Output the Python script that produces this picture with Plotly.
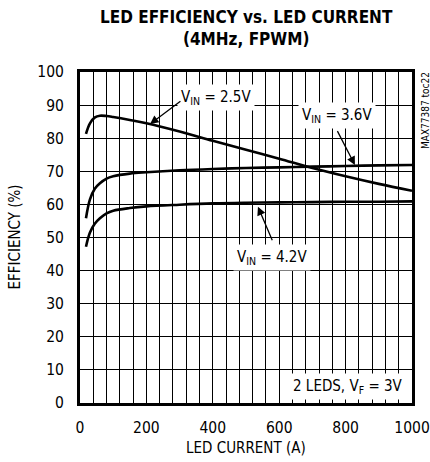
import plotly.graph_objects as go

current = [18, 30, 45, 60, 80, 100, 150, 200, 300, 400, 500, 600, 700, 800, 900, 1000]
eff_25 = [81.3, 84.5, 86.3, 86.8, 86.7, 86.4, 85.5, 84.5, 82.0, 79.2, 76.5, 73.8, 71.0, 68.5, 66.2, 64.1]
eff_36 = [55.8, 61.5, 64.8, 66.4, 67.8, 68.5, 69.3, 69.7, 70.3, 70.7, 71.0, 71.2, 71.4, 71.6, 71.8, 71.9]
eff_42 = [47.2, 51.5, 54.2, 55.8, 57.3, 58.1, 58.9, 59.4, 59.9, 60.3, 60.5, 60.6, 60.7, 60.8, 60.8, 60.9]
x_ticks = [0, 200, 400, 600, 800, 1000]
y_ticks = [0, 10, 20, 30, 40, 50, 60, 70, 80, 90, 100]

FONT = "DejaVu Sans Condensed, Liberation Sans Narrow, sans-serif"

fig = go.Figure()
for ys in (eff_25, eff_36, eff_42):
    fig.add_trace(go.Scatter(x=current, y=ys, mode="lines",
                             line=dict(color="black", width=2.6, shape="spline"),
                             showlegend=False, hoverinfo="skip"))

labels = [
    ("V<sub>IN</sub> = 2.5V", 410, 92.4),
    ("V<sub>IN</sub> = 3.6V", 774, 87.0),
    ("V<sub>IN</sub> = 4.2V", 578, 44.1),
    ("2 LEDS, V<sub>F</sub> = 3V", 806, 5.1),
]
for t, x, y in labels:
    fig.add_annotation(x=x, y=y, text=t, showarrow=False, bgcolor="white",
                       font=dict(family=FONT, size=15, color="black"), borderpad=3)

arrows = [
    (307, 91.5, 211, 84.3),
    (773, 82.6, 828, 71.9),
    (581, 48.7, 536, 59.3),
]
for tx, ty, hx, hy in arrows:
    fig.add_annotation(x=hx, y=hy, ax=tx, ay=ty, axref="x", ayref="y", text="",
                       showarrow=True, arrowhead=2, arrowsize=1.3, arrowwidth=1.3,
                       arrowcolor="black")

fig.add_annotation(x=1.0, y=1.0, xref="paper", yref="paper", xanchor="left", yanchor="top",
                   xshift=6, yshift=2, text="MAX77387 toc22", textangle=-90, showarrow=False,
                   font=dict(family=FONT, size=10, color="black"))

fig.add_annotation(x=0.5, y=1.0, xref="paper", yref="paper", xanchor="center", yanchor="bottom",
                   yshift=21, text="<b>LED EFFICIENCY vs. LED CURRENT<br>(4MHz, FPWM)</b>",
                   showarrow=False, font=dict(family=FONT, size=17, color="black"))

fig.add_annotation(x=0.5, y=0, xref="paper", yref="paper", xanchor="center", yanchor="middle",
                   yshift=-45, text="LED CURRENT (A)", showarrow=False,
                   font=dict(family=FONT, size=15, color="black"))
fig.add_annotation(x=0, y=0.5, xref="paper", yref="paper", xanchor="center", yanchor="middle",
                   xshift=-66, text="EFFICIENCY (%)", textangle=-90, showarrow=False,
                   font=dict(family=FONT, size=15, color="black"))

fig.update_layout(
    width=430, height=462,
    margin=dict(l=80, r=18, t=72, b=59, autoexpand=False),
    paper_bgcolor="white", plot_bgcolor="white",
    font=dict(family=FONT, size=15, color="black"),
)
fig.update_xaxes(range=[0, 1000], tickvals=x_ticks, showgrid=True, gridcolor="black", gridwidth=1,
                 minor=dict(dtick=40, tick0=0, showgrid=True, gridcolor="black", gridwidth=1),
                 showline=True, linecolor="black", linewidth=3, mirror=True, ticks="",
                 ticklabelstandoff=8, ticklabeloverflow="allow",
                 zeroline=False, tickfont=dict(family=FONT, size=15.5), automargin=False)
fig.update_yaxes(range=[0, 100], tickvals=y_ticks, showgrid=True, gridcolor="black", gridwidth=1,
                 showline=True, linecolor="black", linewidth=3, mirror=True, ticks="",
                 ticklabelstandoff=10, ticklabeloverflow="allow",
                 zeroline=False, tickfont=dict(family=FONT, size=15.5), automargin=False)

fig.write_html("out.html", config={"displayModeBar": False},
               post_script="document.body.style.margin='0';document.body.style.overflow='hidden';")
